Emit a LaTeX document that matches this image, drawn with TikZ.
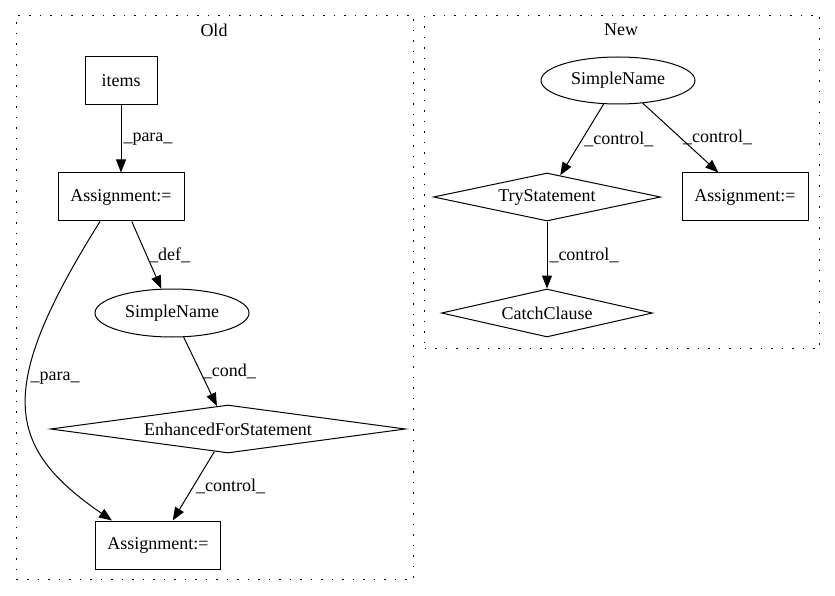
\documentclass[tikz,border=0pt]{standalone}
\usepackage{fontspec}
\setmainfont{Liberation Serif}
\usetikzlibrary{shapes.geometric,arrows.meta}

\tikzset{
  every node/.style={font=\fontsize{18}{21}\selectfont},
  box/.style={draw, rectangle, line width=1pt, inner sep=0pt, minimum height=48pt},
  ell/.style={draw, ellipse, line width=1pt, inner sep=0pt, minimum width=154pt, minimum height=48pt},
  decision/.style={draw, diamond, line width=1pt, inner sep=0pt, shape aspect=6, minimum height=48pt},
  cluster/.style={draw, dash pattern=on 1.5pt off 9pt, line width=1pt, inner sep=0pt, anchor=north west},
  flow/.style={-{Triangle[length=13pt,width=10pt]}, line width=1pt},
  elabel/.style={right, inner sep=2pt}
}

\begin{document}
\begin{tikzpicture}[x=1pt, y=-1pt]
    \useasboundingbox (0,0) rectangle (835,596);

    % clusters
    \node[cluster, minimum width=397pt, minimum height=564pt] (old) at (16,15) {};
    \node[cluster, minimum width=395pt, minimum height=333pt] (new) at (424,15) {};
    \node (oldlabel) at (214,30) {Old};
    \node (newlabel) at (621,30) {New};

    % old graph
    \node[box, minimum width=72pt] (items) at (121,81) {items};
    \node[box, minimum width=126pt] (asgA) at (121,197) {Assignment:=};
    \node[ell] (nameA) at (172,313) {SimpleName};
    \node[decision, minimum width=355pt] (forA) at (228,429) {EnhancedForStatement};
    \node[box, minimum width=125pt] (asgB) at (158,545) {Assignment:=};

    % new graph
    \node[ell, minimum height=47pt] (nameB) at (618,80.5) {SimpleName};
    \node[decision, minimum width=227pt] (tryB) at (547,197) {TryStatement};
    \node[box, minimum width=126pt] (asgC) at (745,197) {Assignment:=};
    \node[decision, minimum width=211pt] (catchB) at (547,313) {CatchClause};

    % edges
    \draw[flow] (items) -- node[elabel] {\_para\_} (asgA);
    \draw[flow] (asgA) -- node[elabel] {\_def\_} (nameA);
    \draw[flow] ([xshift=-21pt]asgA.south) .. controls (-5,389) and (5,447) .. node[elabel, pos=0.4] {\_para\_} ([xshift=-46pt]asgB.north);
    \draw[flow] (nameA) -- node[elabel] {\_cond\_} (forA);
    \draw[flow] (forA) -- node[elabel] {\_control\_} (asgB);

    \draw[flow] (nameB) -- node[elabel] {\_control\_} (tryB);
    \draw[flow] (nameB) -- node[elabel] {\_control\_} (asgC);
    \draw[flow] (tryB) -- node[elabel] {\_control\_} (catchB);
\end{tikzpicture}
\end{document}
